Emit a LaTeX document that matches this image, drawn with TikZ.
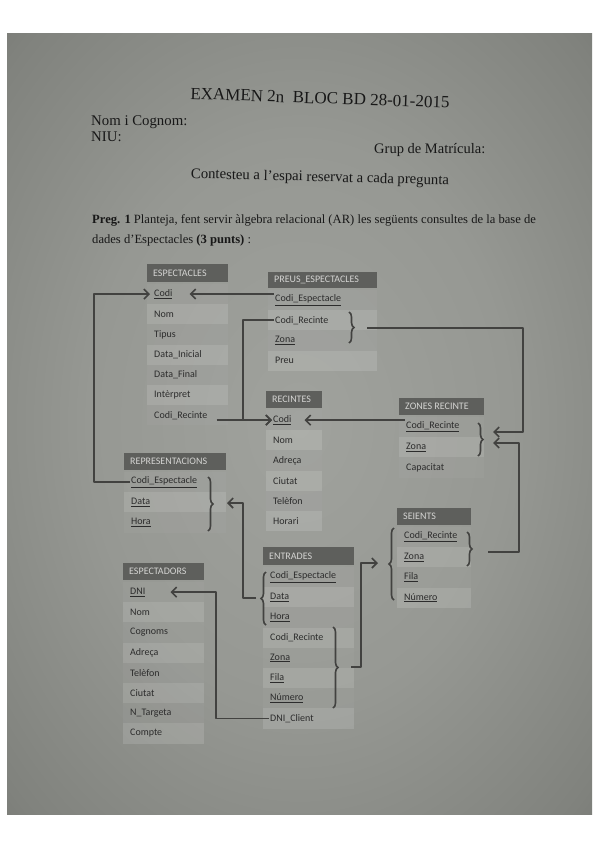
\documentclass[tikz,border=0pt]{standalone}
\usepackage{fontspec}
\setmainfont{Liberation Serif}
\newfontfamily\calfont{Carlito}
\usetikzlibrary{arrows.meta,decorations.pathreplacing,calc}
\definecolor{pc0}{RGB}{160,162,157}
\definecolor{pc1}{RGB}{150,152,147}
\definecolor{pc2}{RGB}{128,130,125}
\definecolor{pc3}{RGB}{100,101,97}
\definecolor{pc4}{RGB}{70,70,68}
\definecolor{pc5}{RGB}{52,52,51}
\definecolor{connc}{RGB}{66,66,64}
\definecolor{hdrc}{RGB}{94,95,92}
\definecolor{hdrt}{RGB}{212,212,210}
\definecolor{txtc}{RGB}{24,24,24}
\definecolor{rowt}{RGB}{44,44,44}
\pgfdeclareradialshading{paper}{\pgfpoint{0bp}{0bp}}{color(0bp)=(pc0); color(18bp)=(pc1); color(34bp)=(pc2); color(46bp)=(pc3); color(60bp)=(pc4); color(71bp)=(pc5)}
\newcommand\ertab[7]{%
  \fill[hdrbox] (#2,#4) rectangle (#3,#5);
  \node[hdrtxt] (#1-h) at (#2+5,{(#4+#5)/2}) {#6};
  \foreach \rowtext [count=\i] in {#7} {
    \pgfmathsetmacro\yt{#5+2+20.2*(\i-1)}
    \pgfmathsetmacro\yb{\yt+20.2}
    \fill[rowfill] (#2,\yt) rectangle (#3,\yb);
    \ifodd\i \fill[rowband] (#2,\yt) rectangle (#3,\yb); \fi
    \node[rowtxt] (#1-\i) at (#2+6,\yt+10.1) {\rowtext};
  }
}
\begin{document}
\begin{tikzpicture}[x=1pt,y=-1pt,
  hdrbox/.style={fill=hdrc},
  hdrtxt/.style={anchor=west,inner sep=1pt,text=hdrt,font=\calfont\fontsize{10}{12}\selectfont},
  rowfill/.style={fill=white,fill opacity=0.13},
  rowband/.style={fill=black,fill opacity=0.06},
  rowtxt/.style={anchor=west,inner sep=1pt,text=rowt,font=\calfont\fontsize{10}{12}\selectfont},
  head/.style={text=txtc,inner sep=0pt},
  conn/.style={draw=connc,line width=1.8pt,line join=round},
  arr/.style={-{Straight Barb[length=5pt,width=10pt,line width=1.6pt]}},
  brc/.style={draw=connc,line width=1.6pt,decorate,decoration={brace,amplitude=5pt}}]
\useasboundingbox (0,0) rectangle (600,848);
\fill[white] (0,0) rectangle (600,848);
\shade[shading=paper] (7,34) rectangle (592,814);
% header texts
\node[head,font=\fontsize{17}{20}\selectfont,rotate=-2] (title) at (320,98) {EXAMEN 2n\ \ BLOC BD 28-01-2015};
\node[head,anchor=west,font=\fontsize{14.8}{16}\selectfont] (nom) at (91,122) {Nom i Cognom:};
\node[head,anchor=west,font=\fontsize{14.8}{16}\selectfont] (niu) at (91,137) {NIU:};
\node[head,anchor=west,font=\fontsize{14.5}{16}\selectfont] (grup) at (374,150) {Grup de Matrícula:};
\node[head,font=\fontsize{14.7}{16}\selectfont,rotate=-1.5] (cont) at (320,178) {Contesteu a l’espai reservat a cada pregunta};
\node[head,anchor=west,font=\fontsize{12.6}{14}\selectfont] (preg) at (92,220) {\textbf{Preg. 1} Planteja, fent servir àlgebra relacional (AR) les següents consultes de la base de};
\node[head,anchor=west,font=\fontsize{12.6}{14}\selectfont] (preg2) at (92,240) {dades d’Espectacles \textbf{(3 punts)} :};
% tables
\ertab{esp}{147}{228}{264}{282}{ESPECTACLES}{\underline{Codi},Nom,Tipus,Data\_Inicial,Data\_Final,Intèrpret,Codi\_Recinte}
\ertab{pre}{268}{377}{272}{288}{PREUS\_ESPECTACLES}{\underline{Codi\_Espectacle},Codi\_Recinte,\underline{Zona},Preu}
\ertab{rec}{266}{322}{391}{408}{RECINTES}{\underline{Codi},Nom,Adreça,Ciutat,Telèfon,Horari}
\ertab{zon}{399}{484}{398}{415}{ZONES RECINTE}{\underline{Codi\_Recinte},\underline{Zona},Capacitat}
\ertab{sei}{397}{471}{508}{525}{SEIENTS}{\underline{Codi\_Recinte},\underline{Zona},\underline{Fila},\underline{Número}}
\ertab{ent}{263}{354}{547}{565}{ENTRADES}{\underline{Codi\_Espectacle},\underline{Data},\underline{Hora},Codi\_Recinte,\underline{Zona},\underline{Fila},\underline{Número},DNI\_Client}
\ertab{rep}{124}{226}{453}{470}{REPRESENTACIONS}{\underline{Codi\_Espectacle},\underline{Data},\underline{Hora}}
\ertab{spd}{123}{204}{563}{580}{ESPECTADORS}{\underline{DNI},Nom,Cognoms,Adreça,Telèfon,Ciutat,N\_Targeta,Compte}
% braces
\draw[brc] (349,312) -- (349,343);
\draw[brc] (478,423) -- (478,456);
\draw[brc] (208,477) -- (208,531);
\draw[brc] (394,600) -- (394,528);
\draw[brc] (467,532) -- (467,566);
\draw[brc] (266,625) -- (266,572);
\draw[brc] (333,627) -- (333,708);
% connector helper coordinates
\coordinate (tEspCodi) at ($(esp-1.east)+(16,0)$);
\coordinate (cB) at (243,0);
\coordinate (cS) at ($(esp-7.east)+(8,0)$);
\coordinate (tRecCodi) at ($(rec-1.east)+(12,0)$);
\coordinate (sE) at (367,328);
\coordinate (cE) at (523,0);
\coordinate (tZon1) at (493,432);
\coordinate (sF) at (488,552);
\coordinate (cF) at (519,0);
\coordinate (tZon2) at (493,443);
\coordinate (sG) at (351,667);
\coordinate (cG) at (361,0);
\coordinate (tSei) at (378,563);
\coordinate (sH) at (256,598);
\coordinate (cH) at (243,0);
\coordinate (tRep) at (227,503);
\coordinate (cI) at (94,0);
\coordinate (cJ) at (216,0);
\coordinate (tDni) at ($(spd-1.east)+(24,0)$);
% connectors
\draw[conn,arr] (pre-1.west |- 0,294) -- (tEspCodi |- 0,294);
\draw[conn,arr] (pre-2.west) -- (pre-2.west -| cB) |- (rec-1.west);
\draw[conn,arr] (cS |- rec-1.west) -- (rec-1.west);
\draw[conn,arr] (zon-1.west |- tRecCodi) -- (tRecCodi);
\draw[conn,arr] (sE) -| (cE |- tZon1) -- (tZon1);
\draw[conn,arr] (sF) -| (cF |- tZon2) -- (tZon2);
\draw[conn,arr] (sG) -| (cG |- tSei) -- (tSei);
\draw[conn,arr] (sH) -| (cH |- tRep) -- (tRep);
\draw[conn,arr] (rep-1.west) -| (cI |- esp-1.west) -- ($(esp-1.west)+(-3,0)$);
\draw[conn,arr] (ent-8.west) -| (cJ |- tDni) -- (tDni);
\end{tikzpicture}
\end{document}
